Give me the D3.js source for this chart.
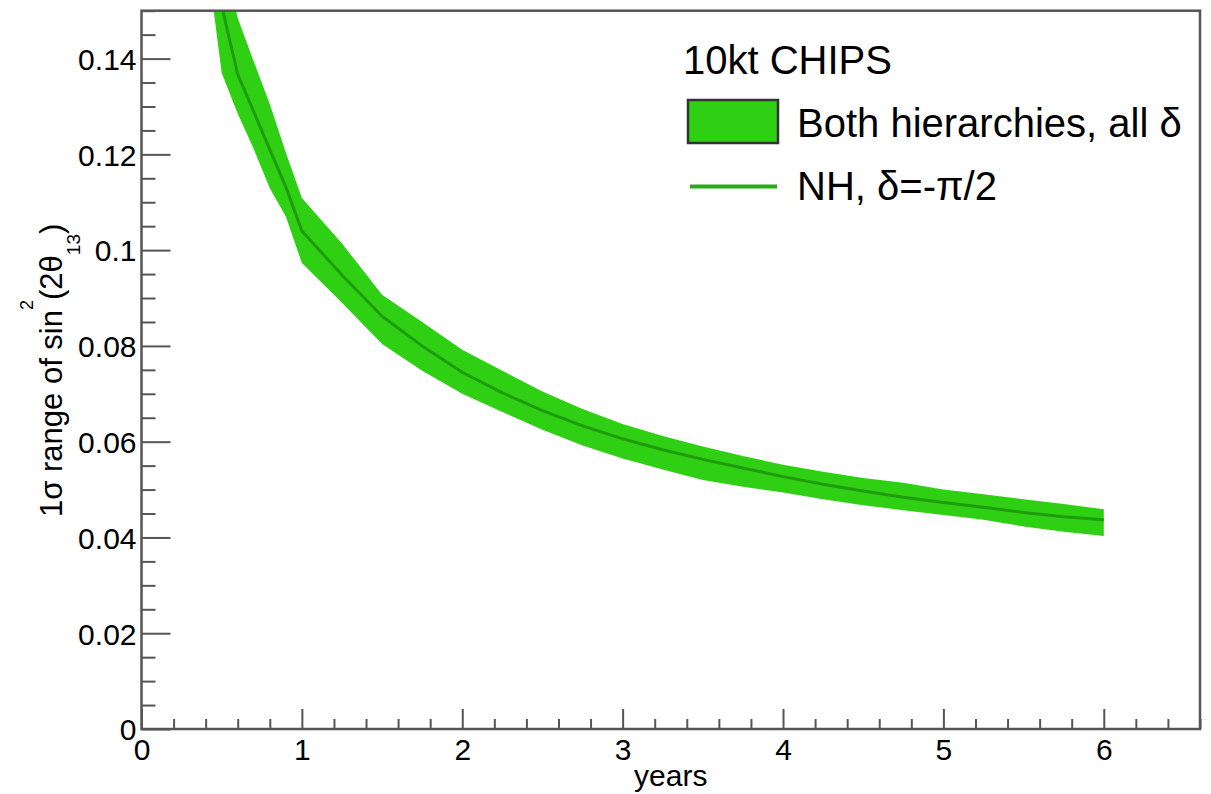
<!DOCTYPE html>
<html>
<head>
<meta charset="utf-8">
<script src="https://cdn.jsdelivr.net/npm/d3@7"></script>
<style>
  body { margin: 0; background: #fff; }
  svg { display: block; font-family: "Liberation Sans", Arial, Helvetica, sans-serif; }
</style>
</head>
<body>
<div id="chart"></div>
<script>
// exposure in years
const years = [0.45, 0.5, 0.6, 0.7, 0.8, 0.9, 1.0, 1.25, 1.5, 1.75, 2.0, 2.25, 2.5, 2.75,
  3.0, 3.25, 3.5, 3.75, 4.0, 4.25, 4.5, 4.75, 5.0, 5.25, 5.5, 5.75, 6.0];

// NH, delta = -pi/2 line
const nhCenter = [0.163, 0.151, 0.1367, 0.1289, 0.1210, 0.1132, 0.1040, 0.0948, 0.0862, 0.0800,
  0.0745, 0.0702, 0.0665, 0.0633, 0.0606, 0.0583, 0.0563, 0.0545, 0.0527, 0.0511, 0.0497,
  0.0484, 0.0473, 0.0463, 0.0452, 0.0443, 0.0437];

// both hierarchies, all delta (band edges)
const bandUpper = [0.176, 0.164, 0.1485, 0.1394, 0.1305, 0.1204, 0.1109, 0.1014, 0.0907, 0.0850,
  0.0792, 0.0748, 0.0705, 0.0668, 0.0637, 0.0612, 0.0590, 0.0570, 0.0552, 0.0537, 0.0524,
  0.0514, 0.0500, 0.0490, 0.0480, 0.0470, 0.0459];
const bandLower = [0.150, 0.137, 0.1285, 0.1211, 0.1129, 0.1070, 0.0973, 0.0890, 0.0804, 0.0748,
  0.0700, 0.0662, 0.0625, 0.0592, 0.0565, 0.0542, 0.0520, 0.0506, 0.0494, 0.0480, 0.0467,
  0.0457, 0.0447, 0.0437, 0.0423, 0.0412, 0.0403];

const xMajorTicks = [0, 1, 2, 3, 4, 5, 6];
const yMajorTicks = [0, 0.02, 0.04, 0.06, 0.08, 0.1, 0.12, 0.14];
const yTickLabels = ['0', '0.02', '0.04', '0.06', '0.08', '0.1', '0.12', '0.14'];

const legendHeader = '10kt CHIPS';
const legendBand = 'Both hierarchies, all δ';
const legendLine = 'NH, δ=-π/2';

const W = 1211, H = 794;
const frame = { left: 141.5, top: 10.7, right: 1200, bottom: 729 };

const bandColor = '#2fd014';
const lineColor = '#1f9c0c';
const axisColor = '#555';

const svg = d3.select('#chart')
  .append('svg')
  .attr('width', W)
  .attr('height', H);

svg.append('rect').attr('width', W).attr('height', H).attr('fill', '#fff');

const x = d3.scaleLinear().domain([0, 6.6]).range([frame.left, frame.right]);
const y = d3.scaleLinear().domain([0, 0.15]).range([frame.bottom, frame.top]);

const rows = years.map((yr, i) => ({ yr, c: nhCenter[i], hi: bandUpper[i], lo: bandLower[i] }));

// clip to the frame
svg.append('clipPath').attr('id', 'plot-clip')
  .append('rect')
  .attr('x', frame.left).attr('y', frame.top)
  .attr('width', frame.right - frame.left).attr('height', frame.bottom - frame.top);

const plot = svg.append('g').attr('clip-path', 'url(#plot-clip)');

// band
plot.append('path')
  .datum(rows)
  .attr('fill', bandColor)
  .attr('d', d3.area().x(d => x(d.yr)).y0(d => y(d.lo)).y1(d => y(d.hi)));

// center line
plot.append('path')
  .datum(rows)
  .attr('fill', 'none')
  .attr('stroke', lineColor)
  .attr('stroke-width', 3)
  .attr('stroke-linejoin', 'round')
  .attr('d', d3.line().x(d => x(d.yr)).y(d => y(d.c)));

// minor ticks
const xMinor = d3.range(0, 6.61, 0.2).filter(v => Math.abs(v - Math.round(v)) > 1e-6);
const yMinor = d3.range(0, 0.1501, 0.005).filter(v => Math.abs(v * 50 - Math.round(v * 50)) > 1e-6);

svg.append('g')
  .attr('transform', `translate(0,${frame.bottom})`)
  .call(d3.axisBottom(x).tickValues(xMinor).tickSize(-10).tickFormat(''))
  .call(g => g.select('.domain').remove())
  .call(g => g.selectAll('line').attr('stroke', axisColor).attr('stroke-width', 2));

svg.append('g')
  .attr('transform', `translate(${frame.left},0)`)
  .call(d3.axisLeft(y).tickValues(yMinor).tickSize(-14).tickFormat(''))
  .call(g => g.select('.domain').remove())
  .call(g => g.selectAll('line').attr('stroke', axisColor).attr('stroke-width', 2));

// major ticks + labels
svg.append('g')
  .attr('transform', `translate(0,${frame.bottom})`)
  .call(d3.axisBottom(x).tickValues(xMajorTicks).tickSize(-20).tickPadding(0).tickFormat(d3.format('d')))
  .call(g => g.select('.domain').remove())
  .call(g => g.selectAll('line').attr('stroke', axisColor).attr('stroke-width', 2))
  .call(g => g.selectAll('text')
    .attr('y', 31).attr('dy', null)
    .attr('fill', '#000').style('font-size', '30px'));

svg.append('g')
  .attr('transform', `translate(${frame.left},0)`)
  .call(d3.axisLeft(y).tickValues(yMajorTicks).tickSize(-29).tickPadding(5)
    .tickFormat((d, i) => yTickLabels[i]))
  .call(g => g.select('.domain').remove())
  .call(g => g.selectAll('line').attr('stroke', axisColor).attr('stroke-width', 2))
  .call(g => g.selectAll('text')
    .attr('dy', '0.36em')
    .attr('fill', '#000').style('font-size', '30px'));

// frame
svg.append('rect')
  .attr('x', frame.left).attr('y', frame.top)
  .attr('width', frame.right - frame.left).attr('height', frame.bottom - frame.top)
  .attr('fill', 'none')
  .attr('stroke', axisColor)
  .attr('stroke-width', 2.5);

// axis titles
svg.append('text')
  .attr('x', (frame.left + frame.right) / 2)
  .attr('y', 786)
  .attr('text-anchor', 'middle')
  .style('font-size', '30px')
  .text('years');

const yTitle = svg.append('text')
  .attr('transform', 'translate(62,517) rotate(-90)')
  .attr('text-anchor', 'start')
  .style('font-size', '31px');
yTitle.append('tspan').text('1σ range of sin');
yTitle.append('tspan').attr('dy', -29).style('font-size', '18px').text('2');
yTitle.append('tspan').attr('dy', 29).text('(2θ');
yTitle.append('tspan').attr('dy', 18).style('font-size', '19px').text('13');
yTitle.append('tspan').attr('dy', -18).text(')');

// legend
const legend = svg.append('g').style('font-size', '40px');

legend.append('text')
  .attr('x', 683).attr('y', 74)
  .text(legendHeader);

legend.append('rect')
  .attr('x', 688).attr('y', 100)
  .attr('width', 90).attr('height', 43)
  .attr('fill', bandColor)
  .attr('stroke', '#333')
  .attr('stroke-width', 2.5);

legend.append('text')
  .attr('x', 797).attr('y', 137)
  .text(legendBand);

legend.append('line')
  .attr('x1', 690).attr('x2', 777)
  .attr('y1', 186.5).attr('y2', 186.5)
  .attr('stroke', '#2aaa1a')
  .attr('stroke-width', 4);

legend.append('text')
  .attr('x', 797).attr('y', 200)
  .text(legendLine);
</script>
</body>
</html>
